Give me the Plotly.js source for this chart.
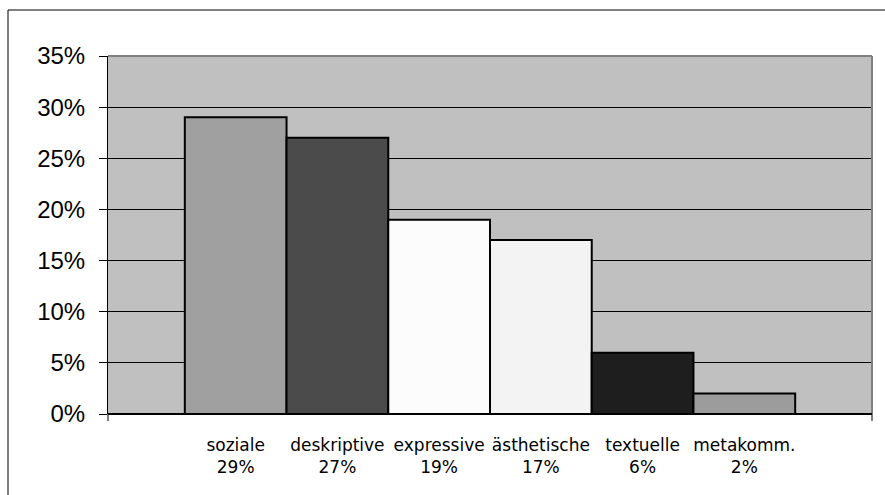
<!DOCTYPE html>
<html>
<head>
<meta charset="utf-8">
<script src="https://cdn.plot.ly/plotly-3.0.1.min.js"></script>
<style>html,body{margin:0;padding:0;background:#fff;}#chart{width:885px;height:495px;}</style>
</head>
<body>
<div id="chart"></div>
<script>
const categories = ["soziale", "deskriptive", "expressive", "ästhetische", "textuelle", "metakomm."];
const values = [0.29, 0.27, 0.19, 0.17, 0.06, 0.02];
const tickLabels = ["soziale<br>29%", "deskriptive<br>27%", "expressive<br>19%", "ästhetische<br>17%", "textuelle<br>6%", "metakomm.<br>2%"];
const barColors = ["#A0A0A0", "#4B4B4B", "#FCFCFC", "#F3F3F3", "#1E1E1E", "#9C9C9C"];
const yTicks = [0, 0.05, 0.10, 0.15, 0.20, 0.25, 0.30, 0.35];

const idx = categories.map((c, i) => i);

const trace = {
  type: "bar",
  x: idx,
  y: values,
  width: 1,
  marker: {color: barColors, line: {color: "#000000", width: 2}},
  hoverinfo: "skip"
};

const W = 764, H = 358;
const px = v => v / W, py = v => v / H;

const layout = {
  width: 885, height: 495,
  margin: {l: 108, r: 13, t: 56, b: 81, pad: 0},
  paper_bgcolor: "#FFFFFF",
  plot_bgcolor: "#C0C0C0",
  showlegend: false,
  bargap: 0,
  font: {family: "Liberation Sans, Arial, sans-serif", color: "#000000"},
  xaxis: {
    type: "linear",
    range: [-1.255, 6.255],
    tickvals: idx,
    ticktext: tickLabels,
    ticks: "",
    showgrid: false,
    zeroline: false,
    showline: false,
    tickfont: {family: "DejaVu Sans, Verdana, sans-serif", size: 17, color: "#000"},
    ticklabelstandoff: 19,
    fixedrange: true
  },
  yaxis: {
    range: [0, 0.35],
    tickvals: yTicks,
    tickformat: ".0%",
    ticks: "outside",
    ticklen: 8,
    tickwidth: 1,
    tickcolor: "#000",
    showgrid: true,
    gridcolor: "#000000",
    gridwidth: 1,
    zeroline: false,
    showline: true,
    linecolor: "#000",
    linewidth: 1,
    tickfont: {family: "Liberation Sans, Arial, sans-serif", size: 24, color: "#000"},
    ticklabelstandoff: 9,
    fixedrange: true
  },
  shapes: [
    {type: "rect", xref: "paper", yref: "paper", x0: px(8 - 108), x1: px(890 - 108), y0: py(414 - 500), y1: py(414 - 10), line: {color: "#000", width: 1}, fillcolor: "rgba(0,0,0,0)", layer: "below"},
    {type: "line", xref: "paper", yref: "paper", x0: 0, x1: 1, y0: 1, y1: 1, line: {color: "#808080", width: 2}},
    {type: "line", xref: "paper", yref: "paper", x0: 1, x1: 1, y0: 0, y1: 1, line: {color: "#808080", width: 2}},
    {type: "line", xref: "paper", yref: "paper", x0: 0, x1: 1, y0: 0, y1: 0, line: {color: "#000", width: 2}},
    {type: "line", xref: "paper", yref: "paper", x0: 0, x1: 0, y0: 0, y1: py(-7), line: {color: "#000", width: 1}},
    {type: "line", xref: "paper", yref: "paper", x0: 1, x1: 1, y0: 0, y1: py(-7), line: {color: "#000", width: 1}}
  ]
};

Plotly.newPlot("chart", [trace], layout, {displayModeBar: false, staticPlot: true});
</script>
</body>
</html>
